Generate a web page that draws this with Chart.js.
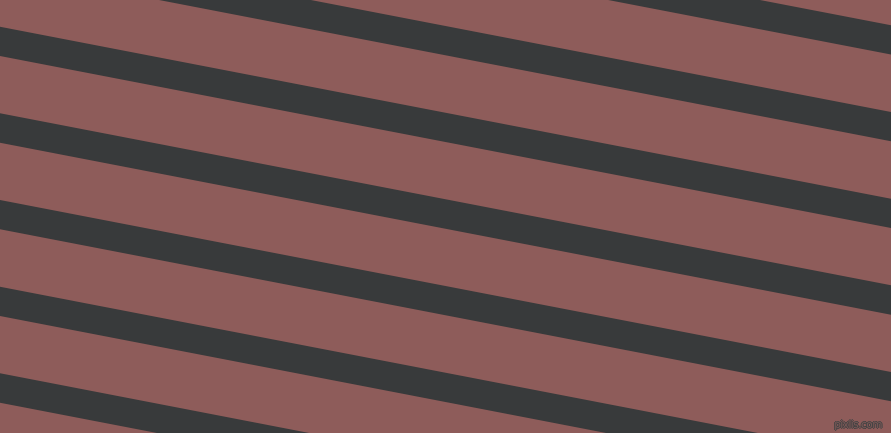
<!DOCTYPE html>
<html>
<head>
<meta charset="utf-8">
<script src="https://cdn.jsdelivr.net/npm/chart.js@4"></script>
<style>
  html, body { margin: 0; padding: 0; background: #8e5c5a; overflow: hidden; }
  #wrap { position: relative; width: 891px; height: 433px; }
  #mark {
    position: absolute; right: 9px; top: 418px; white-space: nowrap;
    font: 10.5px "DejaVu Sans", sans-serif; letter-spacing: -0.5px;
    color: #7a5857;
    text-shadow: 1px 0 0 #444, -1px 0 0 #444, 0 1px 0 #444, 0 -1px 0 #444;
  }
</style>
</head>
<body>
<div id="wrap">
  <canvas id="c"></canvas>
  <div id="mark">pixlis.com</div>
</div>
<script>
// x positions of the two ends of every stripe
const edgeX = [0, 891];

// stripe edges (y, measured from the top) at the left and right ends
const topLeft     = [-146.7, -60, 26.7, 113.3, 200, 286.7, 373.3];
const topRight    = [25.3, 112, 198.7, 285.3, 372, 458.7, 545.3];
const bottomLeft  = [-117.4, -30.7, 56, 142.7, 229.3, 316, 402.7];
const bottomRight = [54.6, 141.3, 228, 314.7, 401.3, 488, 574.7];

const stripeColor = '#383a3b';

const datasets = [];
topLeft.forEach((_, i) => {
  datasets.push({
    data: [{ x: edgeX[0], y: topLeft[i] }, { x: edgeX[1], y: topRight[i] }],
    borderWidth: 0,
    pointRadius: 0,
    fill: false
  });
  datasets.push({
    data: [{ x: edgeX[0], y: bottomLeft[i] }, { x: edgeX[1], y: bottomRight[i] }],
    borderWidth: 0,
    pointRadius: 0,
    backgroundColor: stripeColor,
    fill: '-1'
  });
});

const canvas = document.getElementById('c');
canvas.width = 891;
canvas.height = 433;

new Chart(canvas.getContext('2d'), {
  type: 'line',
  data: { datasets: datasets },
  options: {
    responsive: false,
    animation: false,
    layout: { padding: 0 },
    plugins: { legend: { display: false }, tooltip: { enabled: false } },
    scales: {
      x: { type: 'linear', min: 0, max: 891, display: false },
      y: { type: 'linear', min: 0, max: 433, reverse: true, display: false }
    }
  }
});
</script>
</body>
</html>
